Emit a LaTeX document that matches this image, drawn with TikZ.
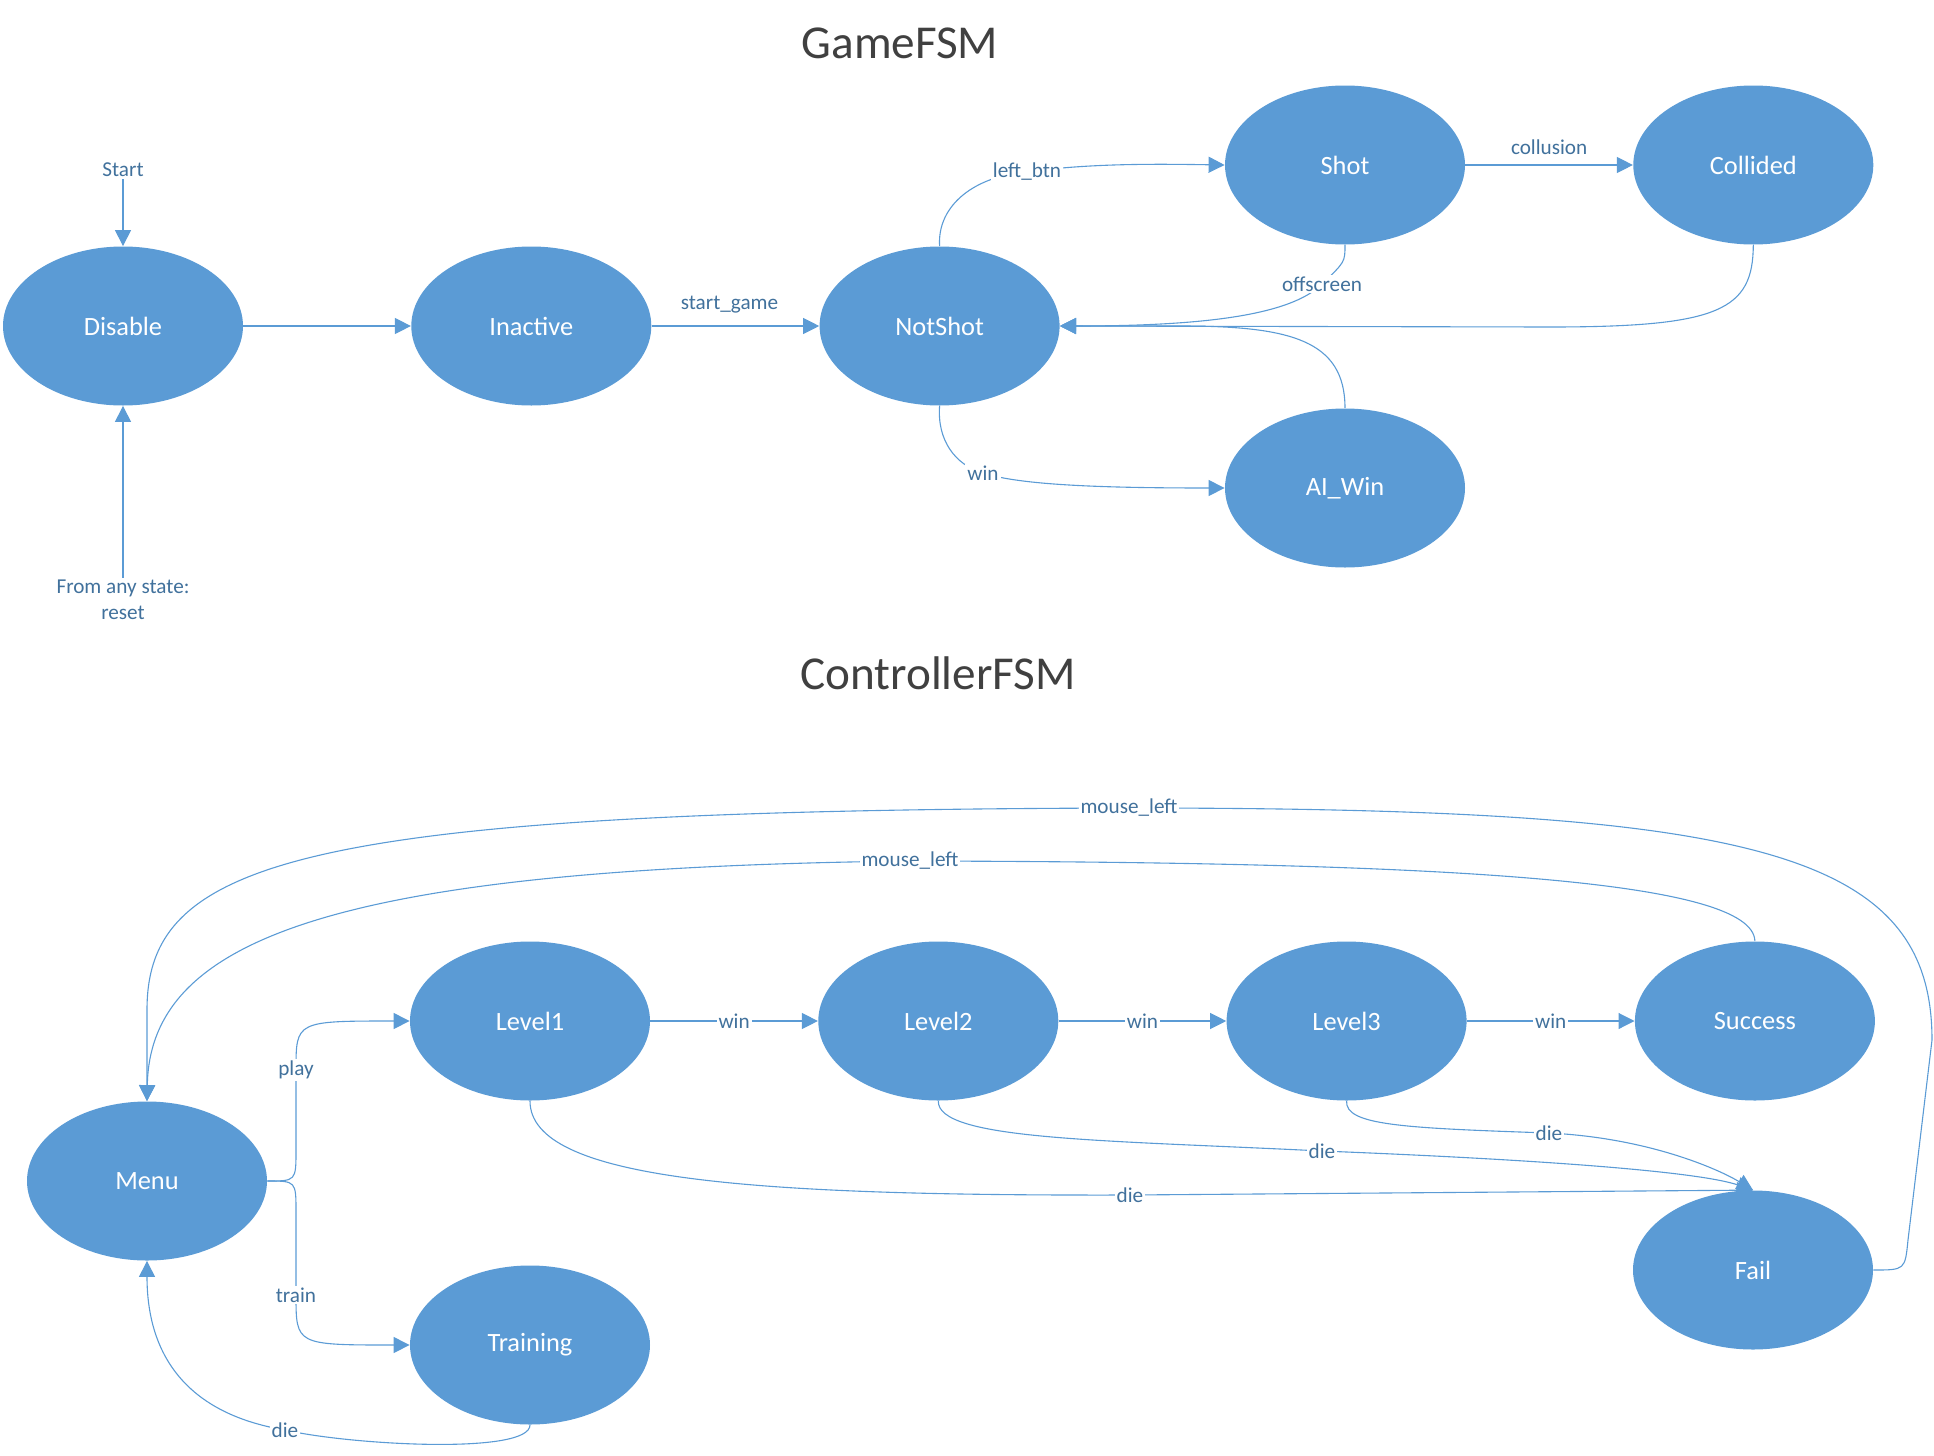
\documentclass[tikz,border=0pt]{standalone}
\usepackage{fontspec}
\setmainfont{Carlito}
\usetikzlibrary{arrows.meta,positioning,shapes.geometric}
\definecolor{fsmBlue}{HTML}{5B9BD5}
\definecolor{fsmLine}{HTML}{5B9BD5}
\definecolor{fsmText}{HTML}{41719C}
\definecolor{fsmGray}{HTML}{404040}

\begin{document}
\begin{tikzpicture}[
  x=0.5pt, y=-0.5pt,
  state/.style={ellipse, fill=fsmBlue, text=white, inner sep=0pt,
    minimum width=120pt, minimum height=79.5pt, font=\fontsize{13.2}{16}\selectfont},
  lbl/.style={fill=white, text=fsmText, inner sep=1pt, font=\fontsize{10.6}{13}\selectfont},
  note/.style={text=fsmText, inner sep=1pt, align=center, font=\fontsize{10.6}{13}\selectfont},
  title/.style={text=fsmGray, font=\fontsize{23.6}{28}\selectfont},
  arr/.style={-{Triangle[length=8pt,width=8pt]}, fsmLine, line width=0.55pt}
]
\useasboundingbox (0,0) rectangle (1934,1456);
\node[title] (gtitle) at (900,43) {GameFSM};
\node[state] (disable) at (123,326) {Disable};
\node[state, right=83.75pt of disable] (inactive) {Inactive};
\node[state, right=83.75pt of inactive] (notshot) {NotShot};
\node[state] (shot) at (1345,165) {Shot};
\node[state, right=83.75pt of shot] (collided) {Collided};
\node[state] (aiwin) at (1345,488) {AI\_Win};
\node[note] (start) at (123,170) {Start};
\node[note] (reset) at (123,600) {From any state:\\reset};
\draw[arr] (start) -- (disable);
\draw[arr] (reset) -- (disable);
\draw[arr] (disable) -- (inactive);
\draw[arr] (inactive) -- node[lbl, fill=none, above=5pt, xshift=-3pt]{start\_game} (notshot);
\draw[arr] (notshot.north) .. controls (937,205) and (975,176) .. (1027,172) node[lbl]{left\_btn}
  .. controls (1090,163) and (1160,164) .. (shot.west);
\draw[arr] (shot) -- node[lbl, fill=none, above=4pt]{collusion} (collided);
\draw[arr] (shot.south) .. controls (1345,262) .. (1322,284) node[lbl]{offscreen}
  .. controls (1290,316) and (1200,326) .. (notshot.east);
\draw[arr] (collided.south) .. controls (1753,310) and (1720,327) .. (1550,327) -- (notshot.east);
\draw[arr] (aiwin.north) .. controls (1345,340) and (1290,326) .. (1180,326) -- (notshot.east);
\draw[arr] (notshot.south) .. controls (937,440) and (955,465) .. (983,473) node[lbl]{win}
  .. controls (1020,485) and (1100,488) .. (aiwin.west);

\node[title] (ctitle) at (938,673) {ControllerFSM};
\node[state] (level1) at (530,1021) {Level1};
\node[state, right=83.75pt of level1] (level2) {Level2};
\node[state, right=83.75pt of level2] (level3) {Level3};
\node[state, right=83.75pt of level3] (success) {Success};
\node[state] (menu) at (147,1181) {Menu};
\node[state] (training) at (530,1345) {Training};
\node[state] (fail) at (1753,1270) {Fail};
\draw[arr] (level1) -- node[lbl]{win} (level2);
\draw[arr] (level2) -- node[lbl]{win} (level3);
\draw[arr] (level3) -- node[lbl]{win} (success);
\draw[arr] (menu.east) .. controls (296,1181) .. (296,1150) -- (296,1070) node[lbl]{play}
  .. controls (296,1021) .. (level1.west);
\draw[arr] (menu.east) .. controls (296,1181) .. (296,1212) -- (296,1295) node[lbl]{train}
  .. controls (296,1345) .. (training.west);
\draw[arr] (training.south) .. controls (530,1455) and (350,1445) .. (285,1430) node[lbl]{die}
  .. controls (165,1410) and (147,1330) .. (menu.south);
\draw[arr] (level1.south) .. controls (530,1180) and (750,1196) .. (1130,1195) node[lbl]{die} -- (fail.north);
\draw[arr] (level2.south) .. controls (937,1140) and (1100,1140) .. (1322,1151) node[lbl]{die}
  .. controls (1550,1160) and (1700,1172) .. (fail.north);
\draw[arr] (level3.south) .. controls (1345,1125) and (1400,1128) .. (1549,1133) node[lbl]{die}
  .. controls (1650,1138) and (1720,1170) .. (fail.north);
\draw[arr] (success.north) .. controls (1753,880) and (1450,862) .. (910,861) node[lbl]{mouse\_left}
  .. controls (330,868) and (150,940) .. (menu.north);
\draw[arr] (fail.east) .. controls (1905,1270) .. (1908,1240) -- (1932,1040)
  .. controls (1932,850) and (1750,808) .. (1129,808) node[lbl]{mouse\_left}
  .. controls (300,810) and (147,860) .. (147,1010) -- (menu.north);
\end{tikzpicture}
\end{document}
